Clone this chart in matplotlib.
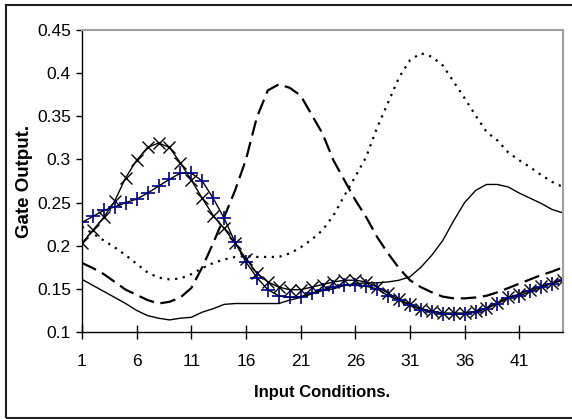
import numpy as np
import matplotlib.pyplot as plt
from matplotlib.patches import Rectangle

plt.rcParams['font.family'] = ['Liberation Sans', 'DejaVu Sans']

# input conditions 1..45
cond = list(range(1, 46))

solid = [0.161, 0.154, 0.147, 0.140, 0.133, 0.125, 0.119, 0.116, 0.114, 0.116,
         0.117, 0.123, 0.127, 0.132, 0.133, 0.133, 0.133, 0.133, 0.133, 0.137,
         0.140, 0.144, 0.148, 0.150, 0.154, 0.156, 0.157, 0.157, 0.158, 0.160,
         0.164, 0.175, 0.189, 0.206, 0.229, 0.250, 0.264, 0.271, 0.271, 0.268,
         0.261, 0.255, 0.249, 0.242, 0.238]

dashed = [0.180, 0.174, 0.167, 0.158, 0.149, 0.143, 0.137, 0.133, 0.135, 0.140,
          0.151, 0.175, 0.203, 0.233, 0.264, 0.300, 0.349, 0.380, 0.387, 0.383,
          0.374, 0.352, 0.330, 0.299, 0.276, 0.253, 0.233, 0.210, 0.191, 0.174,
          0.160, 0.152, 0.146, 0.141, 0.139, 0.139, 0.140, 0.142, 0.146, 0.151,
          0.156, 0.161, 0.166, 0.170, 0.175]

dotted = [0.222, 0.214, 0.206, 0.198, 0.189, 0.179, 0.169, 0.163, 0.161, 0.162,
          0.167, 0.174, 0.180, 0.184, 0.187, 0.188, 0.187, 0.187, 0.187, 0.191,
          0.198, 0.207, 0.218, 0.235, 0.258, 0.280, 0.303, 0.337, 0.366, 0.395,
          0.415, 0.423, 0.419, 0.409, 0.390, 0.371, 0.351, 0.332, 0.322, 0.308,
          0.299, 0.291, 0.282, 0.274, 0.268]

cross = [0.203, 0.218, 0.233, 0.252, 0.279, 0.299, 0.314, 0.319, 0.314, 0.296,
         0.276, 0.255, 0.235, 0.220, 0.203, 0.185, 0.168, 0.158, 0.152, 0.149,
         0.149, 0.152, 0.155, 0.158, 0.160, 0.160, 0.158, 0.152, 0.145, 0.138,
         0.132, 0.127, 0.124, 0.122, 0.122, 0.122, 0.124, 0.128, 0.134, 0.140,
         0.144, 0.149, 0.153, 0.157, 0.160]

plus = [0.227, 0.234, 0.241, 0.245, 0.250, 0.254, 0.261, 0.269, 0.277, 0.284,
        0.284, 0.275, 0.255, 0.232, 0.204, 0.181, 0.163, 0.149, 0.142, 0.140,
        0.141, 0.145, 0.149, 0.152, 0.154, 0.154, 0.153, 0.150, 0.142, 0.137,
        0.131, 0.126, 0.123, 0.121, 0.121, 0.121, 0.123, 0.127, 0.133, 0.139,
        0.142, 0.147, 0.152, 0.156, 0.160]

fig = plt.figure(figsize=(5.72, 4.19), dpi=100)
ax = fig.add_axes([82 / 572, 1 - 332 / 419, (563 - 82) / 572, (332 - 30) / 419])

ax.plot(cond, solid, color='black', lw=1.0)
ax.plot(cond, dashed, color='black', lw=1.6, dashes=(7, 3))
ax.plot(cond, dotted, color='black', lw=1.6, dashes=(1, 2.5))
ax.plot(cond, cross, color='black', lw=1.0, marker='x', ms=9, mew=1.0)
ax.plot(cond, plus, color='black', lw=1.0, marker='+', ms=10, mew=1.2,
        mec='#000080')

ax.set_xlim(1, 45)
ax.set_ylim(0.1, 0.45)
ax.set_xticks(range(1, 45, 5))
ax.set_yticks(np.arange(0.1, 0.451, 0.05))
ax.set_yticklabels(['0.1', '0.15', '0.2', '0.25', '0.3', '0.35', '0.4', '0.45'])

ax.tick_params(axis='x', direction='inout', length=10, width=1, labelsize=12.5, pad=11)
ax.tick_params(axis='y', direction='out', length=4, width=1, labelsize=12.5, pad=4)

for s in ['top', 'right']:
    ax.spines[s].set_color('#a0a0a0')
    ax.spines[s].set_linewidth(1.5)
for s in ['left', 'bottom']:
    ax.spines[s].set_color('black')
    ax.spines[s].set_linewidth(1.0)

ax.set_xlabel('Input Conditions.', fontsize=12, fontweight='bold', labelpad=11)
ax.set_ylabel('Gate Output.', fontsize=13.5, fontweight='bold', labelpad=3)

# outer chart frame
fig.patches.append(Rectangle((6 / 572, 1 - 418 / 419), 1.0, (418 - 5) / 419,
                             transform=fig.transFigure, fill=False,
                             edgecolor='#202020', lw=1.5))

fig.savefig('out.png', dpi=100)
